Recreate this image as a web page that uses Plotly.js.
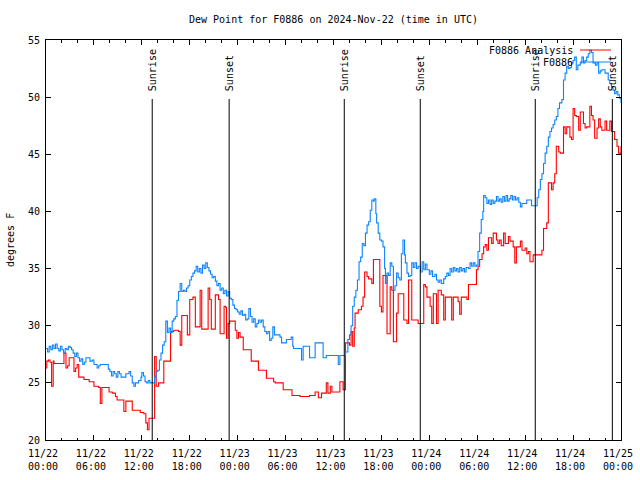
<!DOCTYPE html>
<html>
<head>
<meta charset="utf-8">
<script src="https://cdn.plot.ly/plotly-3.0.1.min.js"></script>
<style>html,body{margin:0;padding:0;background:#fff;}#chart{width:640px;height:480px;}</style>
</head>
<body>
<div id="chart"></div>
<script>
// Hours since 2024-11-22 00:00 UTC and dew point (degrees F)
const obsHours = [0.0,0.2,0.4,0.6,0.8,1.0,1.2,1.4,1.6,1.8,2.0,2.2,2.4,2.6,2.8,3.0,3.2,3.4,3.6,3.8,4.0,4.2,4.4,4.6,4.8,5.0,5.3,5.5,5.8,6.0,6.2,6.4,6.6,6.8,7.2,7.6,7.8,8.0,8.2,8.4,8.6,8.8,9.0,9.2,9.4,9.8,10.0,10.4,10.6,10.8,11.0,11.2,11.6,11.9,12.0,12.2,12.4,12.6,12.8,13.0,13.4,13.6,13.8,14.0,14.2,14.4,14.6,14.8,15.0,15.2,15.4,15.6,15.8,16.0,16.2,16.4,16.6,16.8,17.0,17.2,17.4,17.6,17.8,18.0,18.2,18.4,
18.6,18.8,19.0,19.2,19.4,19.6,19.8,20.0,20.2,20.4,20.6,20.8,21.0,21.2,21.4,21.6,21.8,22.0,22.2,22.4,22.6,22.8,23.0,23.2,23.4,23.6,23.8,24.0,24.2,24.4,24.6,24.8,25.0,25.2,25.4,25.6,25.8,26.0,26.2,26.4,26.6,26.8,27.0,27.2,27.4,27.6,27.8,28.0,28.2,28.4,28.6,29.0,29.3,29.5,29.9,30.1,30.5,30.7,30.9,31.0,31.8,32.0,32.2,32.8,33.0,33.5,33.7,34.5,34.7,35.1,36.4,36.6,36.8,37.4,
37.5,37.8,38.0,38.2,38.4,38.6,38.8,39.0,39.2,39.4,39.6,39.8,40.0,40.2,40.4,40.6,40.8,41.0,41.1,41.3,41.4,41.6,41.8,42.0,42.2,42.4,42.5,42.7,42.9,43.1,43.3,43.5,43.7,43.9,44.1,44.3,44.5,44.7,44.9,45.0,45.2,45.4,45.6,45.8,46.0,46.2,46.4,46.6,46.9,47.1,47.3,47.5,47.7,48.0,48.2,48.4,48.7,48.9,49.1,49.3,49.5,49.8,50.0,50.2,50.4,50.6,50.8,51.0,51.2,51.4,51.6,51.8,52.0,52.2,52.4,52.6,52.9,53.1,53.3,53.5,53.7,53.9,54.1,54.3,54.5,54.7,54.8,
55.0,55.2,55.4,55.6,55.8,56.0,56.2,56.4,56.6,56.8,57.0,57.2,57.4,57.6,57.8,58.0,58.2,58.4,58.6,58.8,59.0,59.2,59.4,59.6,60.0,60.2,60.6,60.8,61.3,61.5,61.7,61.9,62.1,62.3,62.5,62.7,62.9,63.1,63.3,63.5,63.7,63.9,64.1,64.3,64.6,64.8,65.0,65.2,65.4,65.6,65.8,66.0,66.2,66.4,66.6,66.9,67.1,67.3,67.5,67.7,67.9,68.1,68.3,68.5,68.8,69.0,69.2,69.4,69.6,69.8,70.0,70.2,70.4,70.6,70.8,71.0,71.2,71.4,71.6,71.8,72.0];
const obsDew = [28.0,27.7,28.2,27.9,28.3,28.0,28.4,28.0,27.8,28.2,27.9,27.6,28.0,27.9,28.2,28.1,27.9,27.6,27.3,27.6,27.2,26.9,27.1,26.6,26.8,27.2,27.2,26.9,27.0,26.6,26.6,26.3,26.5,26.6,26.6,26.6,26.2,26.0,25.6,26.0,25.8,25.5,26.0,25.8,25.5,25.5,25.8,26.0,25.6,25.0,24.7,25.0,25.2,25.5,25.9,25.6,25.1,25.0,25.2,25.0,25.0,25.5,26.0,26.1,27.0,27.6,28.3,28.6,30.4,29.4,29.8,29.4,30.4,30.6,30.8,32.2,33.0,33.7,33.0,33.1,33.0,33.3,33.5,34.0,34.3,34.6,
34.8,35.2,34.7,35.0,34.6,35.3,35.0,35.5,35.1,34.8,34.5,34.2,34.3,33.9,33.5,33.7,33.1,33.3,32.8,33.1,32.6,33.0,32.4,32.3,31.8,31.5,31.4,31.2,31.0,31.3,30.9,31.0,30.5,30.6,31.5,30.8,30.3,30.6,29.9,30.2,30.5,30.3,30.5,29.9,29.5,29.3,29.5,28.7,28.9,29.9,29.2,29.2,29.0,28.5,28.5,28.8,28.8,29.0,28.2,28.0,28.0,27.0,28.2,28.2,27.2,27.2,28.5,28.5,27.2,27.4,27.4,26.6,27.4,27.4,
27.7,28.8,29.2,30.0,31.7,32.5,33.1,34.0,35.6,36.0,37.2,37.0,38.1,38.8,39.1,40.1,41.0,40.9,41.1,39.8,39.0,38.1,37.5,37.4,36.9,35.0,33.7,34.6,34.4,35.5,35.2,33.1,33.5,34.6,34.2,34.0,36.3,37.5,36.2,35.5,34.6,34.3,34.4,35.5,35.1,35.5,35.0,35.2,34.7,35.6,34.9,35.4,34.9,34.5,34.8,34.3,34.5,34.0,33.8,34.0,33.7,34.1,34.3,34.6,34.4,35.0,34.7,35.1,34.8,35.0,34.7,35.1,34.8,35.0,34.7,35.1,35.0,35.5,35.2,35.5,35.2,35.3,36.5,38.1,39.3,40.0,41.4,
41.2,40.7,41.0,40.6,41.0,40.7,40.9,41.3,40.9,41.1,40.8,41.3,40.9,41.4,40.9,41.1,41.4,41.0,41.3,41.0,41.2,40.8,40.4,40.7,40.7,41.0,41.0,40.5,40.5,41.2,41.9,42.8,43.3,44.2,45.1,45.7,46.5,47.0,47.3,47.6,48.0,48.3,49.0,49.5,49.8,51.5,52.1,52.7,52.5,52.6,53.0,53.2,53.5,52.4,52.8,53.0,53.5,53.0,53.2,53.5,53.8,54.1,53.9,53.0,52.8,53.0,52.1,52.3,52.4,52.4,52.1,52.1,51.5,51.2,50.9,50.6,50.3,50.5,50.2,49.9,49.5];

const anaHours = [0.0,0.1,0.3,0.5,0.7,0.9,1.0,1.5,2.0,2.25,2.5,2.7,2.9,3.3,3.5,3.7,3.9,4.1,4.5,4.75,5.2,5.4,5.6,6.0,6.6,6.8,7.0,7.7,7.9,8.3,8.7,8.9,9.5,9.75,10.0,10.6,10.8,11.6,11.8,12.25,12.5,12.7,12.9,13.5,13.6,13.8,14.1,14.5,14.75,15.4,15.6,16.0,16.6,16.8,17.0,17.5,17.7,18.0,18.4,18.7,19.1,19.3,19.5,20.1,20.3,20.5,20.7,21.2,21.6,21.8,22.2,22.3,22.5,22.6,22.8,23.0,23.4,23.7,23.9,24.1,24.3,24.7,25.5,25.7,26.4,26.6,27.4,27.6,28.5,28.7,29.5,29.7,30.5,30.8,31.6,31.8,32.8,33.0,33.5,33.7,34.1,34.3,34.5,35.0,35.1,35.3,35.6,35.8,36.4,36.8,37.2,37.4,
37.5,38.0,38.2,38.4,38.6,38.7,39.1,39.5,39.7,39.9,40.2,40.4,40.8,41.0,41.6,41.8,42.0,42.2,42.5,42.7,42.9,43.1,43.3,43.5,43.7,43.9,44.1,44.5,44.8,45.2,45.4,45.6,45.8,46.4,46.6,47.0,47.3,47.5,47.7,48.1,48.3,48.5,48.7,48.9,49.1,49.5,49.8,50.0,50.6,50.8,51.0,51.6,51.8,52.0,52.7,52.9,53.7,53.9,54.1,54.3,54.6,54.8,
55.0,55.2,55.4,55.8,56.0,56.4,56.6,56.8,57.0,57.3,57.5,57.9,58.1,58.5,58.7,58.9,59.4,59.6,60.0,60.2,60.4,60.6,60.8,61.0,61.4,61.7,62.1,62.3,62.7,62.9,63.1,63.3,63.5,63.7,63.9,64.2,64.4,64.6,64.8,65.0,65.2,65.4,65.6,65.8,66.0,66.2,66.4,66.7,66.9,67.1,67.3,67.5,67.7,68.1,68.3,68.5,68.7,69.0,69.2,69.4,69.6,70.0,70.2,70.6,70.8,71.0,71.2,71.5,71.7,72.0];
const anaDew = [26.3,26.9,27.0,26.8,24.7,26.9,26.7,26.7,26.7,27.6,26.3,26.5,27.2,27.2,26.0,26.3,26.6,25.5,25.5,25.3,25.3,25.1,25.1,24.7,24.6,23.2,24.6,24.6,24.2,24.1,23.8,23.5,23.5,22.5,23.4,23.4,22.6,22.6,22.4,22.3,21.5,20.9,21.9,21.9,27.3,24.7,25.0,25.0,26.9,26.9,29.5,29.6,29.5,28.3,30.9,30.9,29.2,32.3,32.5,29.9,29.9,33.1,29.7,29.7,33.3,32.3,29.7,32.7,32.3,29.3,29.3,31.7,31.6,28.9,30.2,30.4,30.4,29.6,28.9,29.4,29.0,27.9,27.9,26.9,26.9,26.1,26.1,25.4,25.1,25.0,25.0,24.4,24.4,23.9,23.9,23.8,23.8,23.9,23.9,24.2,23.7,23.7,24.1,24.1,25.0,24.1,24.7,24.2,24.2,25.1,24.4,24.4,
28.5,28.3,29.5,28.2,29.8,31.1,31.4,31.7,32.5,34.7,34.3,34.1,33.7,35.8,35.8,31.7,31.2,34.4,34.4,29.3,29.3,33.4,33.1,28.6,28.6,31.1,32.8,32.8,30.5,30.2,34.0,34.0,30.5,30.5,30.2,30.2,33.6,33.4,32.5,31.7,30.2,32.8,32.8,30.2,33.1,32.7,30.5,32.5,32.5,30.5,32.5,32.1,31.0,32.5,32.3,33.6,33.6,34.9,35.2,35.8,36.3,36.9,
37.1,36.6,37.7,37.2,38.1,37.5,37.2,37.5,37.0,38.1,37.2,37.8,37.4,36.9,35.5,36.9,37.4,36.6,36.8,36.3,36.5,35.6,35.6,36.2,36.2,36.2,36.6,38.5,39.0,42.5,42.5,41.9,42.5,43.3,45.7,45.2,45.1,45.1,47.4,46.8,47.4,47.4,46.5,46.3,49.0,48.4,48.3,47.1,48.7,48.7,47.7,47.3,47.4,49.2,48.4,48.0,46.4,47.3,48.1,47.4,47.1,47.9,47.1,47.9,47.0,47.0,46.3,45.7,45.1,45.7];

const eventNames = ["Sunrise","Sunset","Sunrise","Sunset","Sunrise","Sunset"];
const eventTimes = ["2024-11-22 13:18","2024-11-22 22:56","2024-11-23 13:21","2024-11-23 22:52","2024-11-24 13:16","2024-11-24 22:55"];

const seriesNames = ["F0886 Analysis","F0886"];
const seriesColors = ["#ff0000","#0a84ff"];

const xTickLabels = ["11/22<br>00:00","11/22<br>06:00","11/22<br>12:00","11/22<br>18:00","11/23<br>00:00","11/23<br>06:00","11/23<br>12:00","11/23<br>18:00","11/24<br>00:00","11/24<br>06:00","11/24<br>12:00","11/24<br>18:00","11/25<br>00:00"];

const base = Date.UTC(2024,10,22,0,0,0);
function pad(n){return (n<10?'0':'')+n;}
function toStr(h){
  const d = new Date(base + Math.round(h*3600000));
  return d.getUTCFullYear()+'-'+pad(d.getUTCMonth()+1)+'-'+pad(d.getUTCDate())+' '+pad(d.getUTCHours())+':'+pad(d.getUTCMinutes())+':'+pad(d.getUTCSeconds());
}
const xTickVals = xTickLabels.map((_, i) => toStr(i*6));

const font = {family: "DejaVu Sans Mono, Liberation Mono, monospace", size: 10, color: "#000"};

const traces = [
  {x: anaHours.map(toStr), y: anaDew, type: 'scatter', mode: 'lines', name: seriesNames[0],
   line: {color: seriesColors[0], width: 1.1, shape: 'hv'}},
  {x: obsHours.map(toStr), y: obsDew, type: 'scatter', mode: 'lines', name: seriesNames[1],
   line: {color: seriesColors[1], width: 1.1, shape: 'hv'}}
];

const shapes = [];
const annotations = [];
eventTimes.forEach((t, i) => {
  shapes.push({type: 'line', xref: 'x', yref: 'paper', x0: t, x1: t, y0: 0, y1: 0.8525,
               line: {color: '#000', width: 1}});
  annotations.push({xref: 'x', yref: 'paper', x: t, y: 0.8675, text: eventNames[i], textangle: -90,
                    xanchor: 'center', yanchor: 'bottom', showarrow: false, xshift: 1, font: font});
});
// legend drawn gnuplot-style: text then sample line
const legY = [50, 62];
seriesNames.forEach((n, i) => {
  const yp = (440 - legY[i]) / 400;
  annotations.push({xref: 'paper', yref: 'paper', x: (575 - 46) / 575, y: yp, text: n,
                    xanchor: 'right', yanchor: 'middle', showarrow: false, font: font});
  shapes.push({type: 'line', xref: 'paper', yref: 'paper', x0: (580 - 46) / 575, x1: (611 - 46) / 575,
               y0: yp, y1: yp, line: {color: seriesColors[i], width: 1}});
});
annotations.push({xref: 'paper', yref: 'paper', x: (10 - 46) / 575, y: 0.5, text: 'degrees F', textangle: -90,
                  xanchor: 'center', yanchor: 'middle', showarrow: false, font: font});

const layout = {
  width: 640, height: 480,
  margin: {l: 46, r: 19, t: 40, b: 40, pad: 0},
  paper_bgcolor: '#fff', plot_bgcolor: '#fff',
  showlegend: false,
  font: font,
  title: {text: 'Dew Point for F0886 on 2024-Nov-22 (time in UTC)', font: font,
          x: 0.5, xref: 'paper', xanchor: 'center', y: 1 - 19/480, yref: 'container', yanchor: 'middle'},
  xaxis: {type: 'date', range: [toStr(0), toStr(72)], tickmode: 'array', tickvals: xTickVals, ticktext: xTickLabels,
          ticks: 'inside', ticklen: 5, tickcolor: '#000', tickwidth: 1,
          showline: true, linecolor: '#000', linewidth: 1, mirror: 'allticks',
          showgrid: false, zeroline: false, tickfont: font, automargin: false,
          ticklabelstandoff: 4, ticklabelshift: -3,
          minor: {dtick: 7200000, tick0: toStr(0), ticks: 'inside', ticklen: 2.5, tickcolor: '#000', tickwidth: 1, showgrid: false}},
  yaxis: {range: [20, 55], tickmode: 'linear', tick0: 20, dtick: 5,
          ticks: 'inside', ticklen: 5, tickcolor: '#000', tickwidth: 1,
          showline: true, linecolor: '#000', linewidth: 1, mirror: 'allticks',
          showgrid: false, zeroline: false, tickfont: font, automargin: false, ticklabelstandoff: 3},
  shapes: shapes,
  annotations: annotations
};

Plotly.newPlot('chart', traces, layout, {displayModeBar: false, staticPlot: true});
</script>
</body>
</html>
